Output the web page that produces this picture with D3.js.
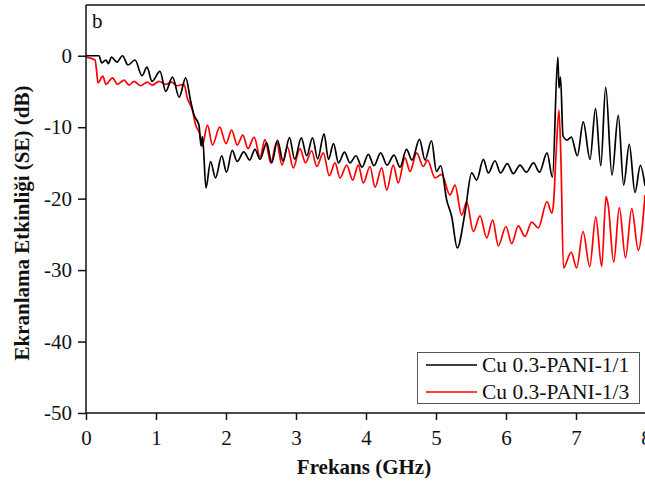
<!DOCTYPE html>
<html>
<head>
<meta charset="utf-8">
<script src="https://cdn.jsdelivr.net/npm/d3@7"></script>
<style>
  html, body { margin: 0; padding: 0; background: #fff; }
  svg { display: block; }
  text { font-family: "Liberation Serif", "Times New Roman", serif; fill: #111; }
</style>
</head>
<body>
<svg id="chart" width="645" height="486"></svg>
<script>
// Frequency (GHz) and shielding effectiveness (dB) for each sample
const freqPani11 = [0.000,0.186,0.224,0.286,0.319,0.364,0.443,0.521,0.600,0.700,0.800,0.871,0.943,1.057,1.139,1.236,1.331,1.424,1.496,1.543,1.614,1.643,1.664,1.714,1.779,1.850,1.939,2.007,2.089,2.160,2.254,2.337,2.414,2.486,2.581,2.653,2.736,2.814,2.907,2.981,3.076,3.153,3.236,3.310,3.400,3.464,3.536,3.607,3.693,3.771,3.857,3.943,4.033,4.114,4.210,4.300,4.400,4.486,4.579,4.657,4.764,4.843,4.936,5.007,5.067,5.153,5.224,5.304,5.414,5.510,5.581,5.676,5.747,5.843,5.921,6.019,6.104,6.200,6.290,6.393,6.479,6.586,6.664,6.740,6.757,6.779,6.814,6.871,6.933,7.019,7.104,7.200,7.279,7.354,7.424,7.514,7.604,7.681,7.761,7.843,7.919,7.986];
const sePani11 = [0,0,-1.0,-0.6,-1.1,-0.2,-0.9,0.0,-1.3,-0.6,-2.8,-1.6,-3.6,-2.2,-5.0,-3.0,-5.8,-3.1,-6.4,-8.3,-9.7,-12.6,-11.3,-18.5,-14.8,-17.1,-14.0,-16.3,-13.25,-14.8,-13.45,-14.6,-13.1,-14.5,-12.2,-15.0,-11.85,-14.75,-11.45,-14.5,-11.5,-14.0,-11.5,-14.45,-10.95,-14.5,-12.3,-15.0,-13.5,-15.0,-14.0,-15.6,-13.8,-15.4,-13.6,-15.3,-13.9,-15.6,-13.1,-14.6,-11.7,-14.6,-11.9,-16.2,-15.4,-20.2,-22.5,-26.9,-22.0,-16.4,-17.4,-14.5,-16.4,-14.7,-16.4,-15.1,-16.5,-15.3,-16.3,-15.0,-16.3,-13.6,-17.0,-0.2,-4.5,-3.0,-11.2,-11.8,-11.4,-14.0,-9.25,-14.5,-7.4,-15.4,-4.4,-16.7,-8.35,-18.1,-12.4,-19.15,-15.35,-18.2];

const freqPani13 = [0.000,0.129,0.150,0.171,0.240,0.286,0.379,0.450,0.543,0.614,0.686,0.781,0.876,0.947,1.043,1.139,1.219,1.304,1.400,1.447,1.519,1.567,1.629,1.657,1.736,1.807,1.910,2.000,2.081,2.160,2.240,2.314,2.403,2.486,2.557,2.640,2.724,2.800,2.879,2.961,3.057,3.136,3.224,3.296,3.390,3.476,3.557,3.629,3.724,3.810,3.890,3.961,4.057,4.129,4.224,4.296,4.390,4.461,4.557,4.629,4.724,4.819,4.879,4.986,5.081,5.200,5.271,5.367,5.439,5.533,5.629,5.724,5.810,5.890,6.000,6.081,6.176,6.271,6.367,6.461,6.586,6.653,6.676,6.714,6.757,6.786,6.821,6.931,7.010,7.100,7.196,7.283,7.367,7.429,7.461,7.539,7.619,7.707,7.796,7.890,7.986];
const sePani13 = [-0.2,-0.6,-2.0,-3.8,-2.85,-4.0,-3.1,-4.0,-3.4,-4.1,-3.6,-4.2,-3.7,-4.1,-3.6,-4.0,-3.7,-4.2,-4.0,-5.9,-7.6,-9.7,-11.1,-12.7,-9.7,-12.5,-10.0,-12.3,-10.4,-12.5,-11.1,-13.0,-11.4,-14.2,-11.75,-15.0,-12.1,-15.3,-12.8,-15.7,-13.0,-15.0,-13.3,-15.5,-13.6,-16.8,-15.0,-17.1,-15.3,-17.4,-15.3,-17.8,-15.5,-18.4,-15.7,-18.8,-15.3,-17.8,-14.3,-16.2,-13.6,-15.5,-14.6,-17.1,-16.6,-19.5,-18.1,-22.3,-20.5,-24.6,-22.4,-25.5,-23.0,-26.6,-23.9,-26.3,-23.8,-25.3,-23.3,-24.1,-20.4,-22.0,-21.0,-14.0,-7.6,-15.0,-29.7,-27.5,-29.7,-24.6,-29.5,-22.55,-29.5,-19.7,-21.0,-28.9,-21.25,-28.3,-21.4,-27.2,-19.5];

const seriesNames = ["Cu 0.3-PANI-1/1", "Cu 0.3-PANI-1/3"];
const seriesColors = ["#000000", "#ff0000"];
const xTicks = [0, 1, 2, 3, 4, 5, 6, 7, 8];
const yTicks = [0, -10, -20, -30, -40, -50];

const svg = d3.select("#chart");
const plotLeft = 86, plotRight = 646, plotTop = 5, plotBottom = 413;

const x = d3.scaleLinear().domain([0, 8]).range([plotLeft, plotRight]);
const y = d3.scaleLinear().domain([-50, 7.1]).range([plotBottom, plotTop]);

svg.append("defs").append("clipPath").attr("id", "plot")
  .append("rect").attr("x", plotLeft).attr("y", plotTop)
  .attr("width", plotRight - plotLeft).attr("height", plotBottom - plotTop);

const series = [
  freqPani11.map((f, i) => [f, sePani11[i]]),
  freqPani13.map((f, i) => [f, sePani13[i]])
];

const line = d3.line()
  .x(d => x(d[0]))
  .y(d => y(d[1]))
  .curve(d3.curveMonotoneX);

const lines = svg.append("g").attr("clip-path", "url(#plot)");
// red drawn first so the black trace sits on top
[1, 0].forEach(i => {
  lines.append("path")
    .datum(series[i])
    .attr("fill", "none")
    .attr("stroke", seriesColors[i])
    .attr("stroke-width", 1.7)
    .attr("stroke-linejoin", "round")
    .attr("d", line);
});

// frame
svg.append("line").attr("x1", plotLeft).attr("x2", plotRight).attr("y1", plotTop).attr("y2", plotTop)
  .attr("stroke", "#111").attr("stroke-width", 1.5);
svg.append("line").attr("x1", plotRight).attr("x2", plotRight).attr("y1", plotTop).attr("y2", plotBottom)
  .attr("stroke", "#111").attr("stroke-width", 1.5);

// plain hyphen for negative tick labels
const fmt = d => String(d);

const xAxis = svg.append("g")
  .attr("transform", `translate(0,${plotBottom})`)
  .call(d3.axisBottom(x).tickValues(xTicks).tickFormat(fmt).tickSizeInner(7).tickSizeOuter(0).tickPadding(10));
const yAxis = svg.append("g")
  .attr("transform", `translate(${plotLeft},0)`)
  .call(d3.axisLeft(y).tickValues(yTicks).tickFormat(fmt).tickSizeInner(8).tickSizeOuter(0).tickPadding(6));

[xAxis, yAxis].forEach(a => {
  a.select(".domain").attr("stroke", "#111").attr("stroke-width", 1.5);
  a.selectAll(".tick line").attr("stroke", "#111").attr("stroke-width", 1.5);
  a.selectAll(".tick text").attr("font-family", "Liberation Serif, Times New Roman, serif")
    .attr("font-size", 21).attr("fill", "#111");
});
yAxis.select(".domain").attr("d", `M0,${plotTop}V${plotBottom}`);
xAxis.select(".domain").attr("d", `M${plotLeft},0H${plotRight}`);

// panel letter
svg.append("text").attr("x", 92).attr("y", 28).attr("font-size", 21).text("b");

// axis titles
svg.append("text")
  .attr("x", (plotLeft + plotRight) / 2 - 2).attr("y", 474)
  .attr("text-anchor", "middle").attr("font-size", 21).attr("font-weight", "bold")
  .text("Frekans (GHz)");
svg.append("text")
  .attr("transform", `translate(29,${223}) rotate(-90)`)
  .attr("text-anchor", "middle").attr("font-size", 21).attr("font-weight", "bold")
  .text("Ekranlama Etkinliği (SE) (dB)");

// legend
const legend = svg.append("g");
legend.append("rect").attr("x", 417.5).attr("y", 352.5).attr("width", 222).attr("height", 51)
  .attr("fill", "#fff").attr("stroke", "#555").attr("stroke-width", 1);
seriesNames.forEach((name, i) => {
  const ly = 365 + i * 27;
  legend.append("line").attr("x1", 426).attr("x2", 477).attr("y1", ly).attr("y2", ly)
    .attr("stroke", seriesColors[i]).attr("stroke-width", 1.5);
  legend.append("text").attr("x", 482).attr("y", ly + 7).attr("font-size", 21.5).text(name);
});
</script>
</body>
</html>
